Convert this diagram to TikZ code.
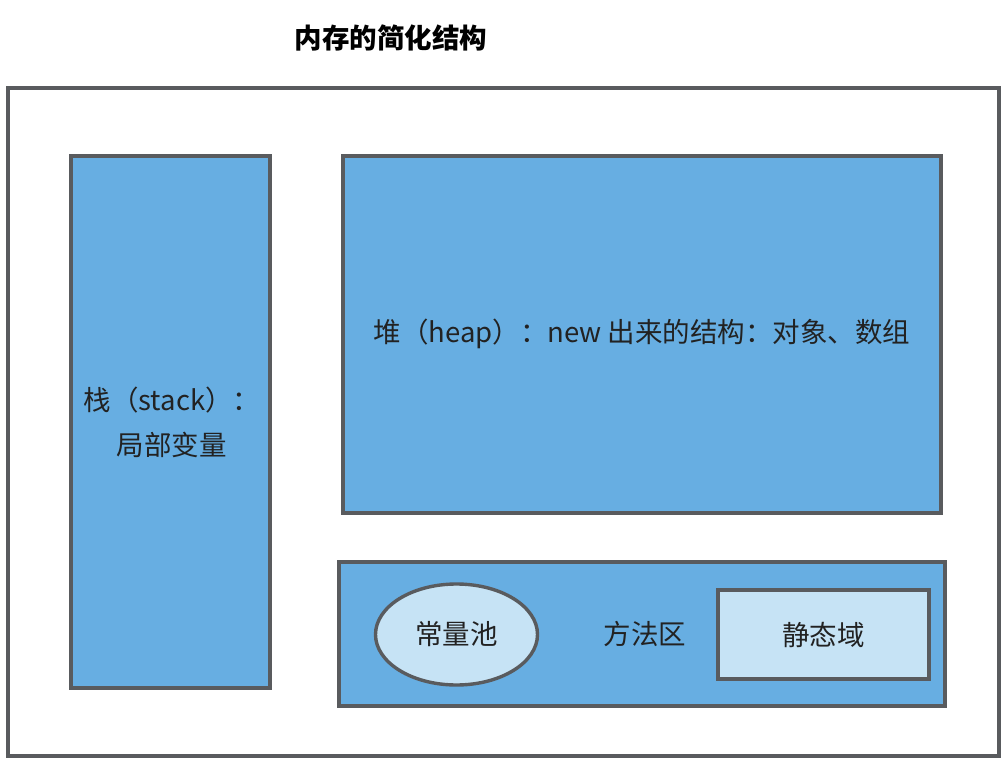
\documentclass[tikz,border=0pt]{standalone}
\usepackage{fontspec}
\setmainfont{Noto Sans CJK SC}
\usetikzlibrary{shapes.geometric}
\definecolor{stroke}{HTML}{595B5E}
\definecolor{blue}{HTML}{67AEE2}
\definecolor{lightblue}{HTML}{C6E3F5}
\definecolor{txt}{HTML}{222222}
\tikzset{
  box/.style={draw=stroke, line width=3.4pt, fill=blue},
  lbox/.style={draw=stroke, line width=3.4pt, fill=lightblue},
  lbl/.style={text=txt, font=\fontsize{27.5}{45}\selectfont, align=center},
}
\begin{document}
\begin{tikzpicture}[x=1pt,y=-1pt]
\useasboundingbox (0,0) rectangle (1005,762);
\node[font=\fontsize{27.5}{30}\selectfont\bfseries, text=black] (title) at (391,38) {内存的简化结构};
\draw[draw=stroke, line width=3.4pt, fill=white] (8,88) rectangle (999,756);
\draw[box] (71,156) rectangle (270,688);
\coordinate (stackc) at (172,422);
\node[lbl] (stack) at (stackc) {栈（stack）：\\局部变量};
\draw[box] (343,156) rectangle (941,513);
\node[lbl] (heap) at (642,334) {堆（heap）：new 出来的结构：对象、数组};
\draw[box] (339,562) rectangle (945,706);
\node[lbl] (method) at (645,634) {方法区};
\node[lbox, ellipse, minimum width=162pt, minimum height=101pt, inner sep=0pt, text=txt, font=\fontsize{27.5}{30}\selectfont] (pool) at (456.5,634.5) {常量池};
\node[lbox, rectangle, minimum width=211pt, minimum height=89pt, inner sep=0pt, text=txt, font=\fontsize{27.5}{30}\selectfont] (static) at (823.5,634.5) {静态域};
\end{tikzpicture}
\end{document}
